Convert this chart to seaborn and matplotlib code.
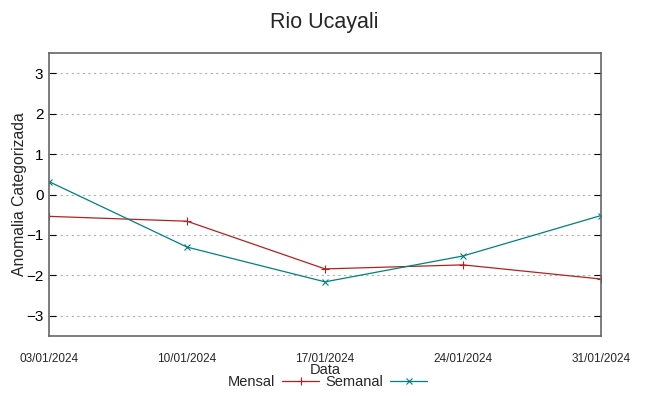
import pandas as pd
import matplotlib
matplotlib.use("Agg")
import matplotlib.pyplot as plt
import seaborn as sns

sns.set_style("white")
plt.rcParams['font.family'] = ['Liberation Sans', 'DejaVu Sans']

# dados
datas = ["2024-01-03", "2024-01-10", "2024-01-17", "2024-01-24", "2024-01-31"]
mensal = [-0.54, -0.66, -1.84, -1.74, -2.09]
semanal = [0.32, -1.30, -2.16, -1.52, -0.52]
rotulos = ["03/01/2024", "10/01/2024", "17/01/2024", "24/01/2024", "31/01/2024"]

cores = {"Mensal": "#b22222", "Semanal": "#008080"}

df = pd.DataFrame({
    "Data": pd.to_datetime(datas).tolist() * 2,
    "Valor": mensal + semanal,
    "Serie": ["Mensal"] * 5 + ["Semanal"] * 5,
})

fig = plt.figure(figsize=(6.49, 3.96), dpi=100)
ax = fig.add_axes([0.0755, 0.1515, 0.8505, 0.7145])

sns.lineplot(data=df, x="Data", y="Valor", hue="Serie", style="Serie",
             palette=cores, markers={"Mensal": "+", "Semanal": "x"}, dashes=False,
             markersize=6, linewidth=0.9, ax=ax, legend=False)
# marcadores com a cor da linha
for ln in ax.lines:
    ln.set_markeredgecolor(ln.get_color())
    ln.set_markeredgewidth(0.8)
    if ln.get_marker() == "x":
        ln.set_markersize(4.5)

ax.set_xlim(pd.Timestamp(datas[0]), pd.Timestamp(datas[-1]))
ax.set_ylim(-3.5, 3.5)
ax.set_xticks(pd.to_datetime(datas))
ax.set_xticklabels(rotulos, fontsize=8.5)
ax.set_yticks([-3, -2, -1, 0, 1, 2, 3])
ax.tick_params(axis="y", labelsize=11, direction="in", length=5, right=True, left=True,
               colors="black", pad=4)
ax.tick_params(axis="x", direction="in", length=5, pad=12, top=False)
ax.yaxis.grid(True, linestyle=(0, (2, 3)), color="#b0b0b0", linewidth=0.8)
for s in ax.spines.values():
    s.set_color("#666666")
    s.set_linewidth(1.2)

ax.set_xlabel("Data", fontsize=10.5, labelpad=-1)
ax.set_ylabel("Anomalia Categorizada", fontsize=11.3, labelpad=-1)
fig.suptitle("Rio Ucayali", fontsize=15.5, y=0.97)

h1, = ax.plot([], [], color=cores["Mensal"], marker="+", lw=0.9, markersize=6, mew=0.8)
h2, = ax.plot([], [], color=cores["Semanal"], marker="x", lw=0.9, markersize=4.5, mew=0.8)
fig.legend([h1, h2], ["Mensal", "Semanal"], loc="center", bbox_to_anchor=(0.505, 0.035),
           ncol=2, frameon=False, markerfirst=False, fontsize=10.5,
           handlelength=2.55, columnspacing=0.45, handletextpad=0.45)

plt.savefig("out.png", dpi=100)
